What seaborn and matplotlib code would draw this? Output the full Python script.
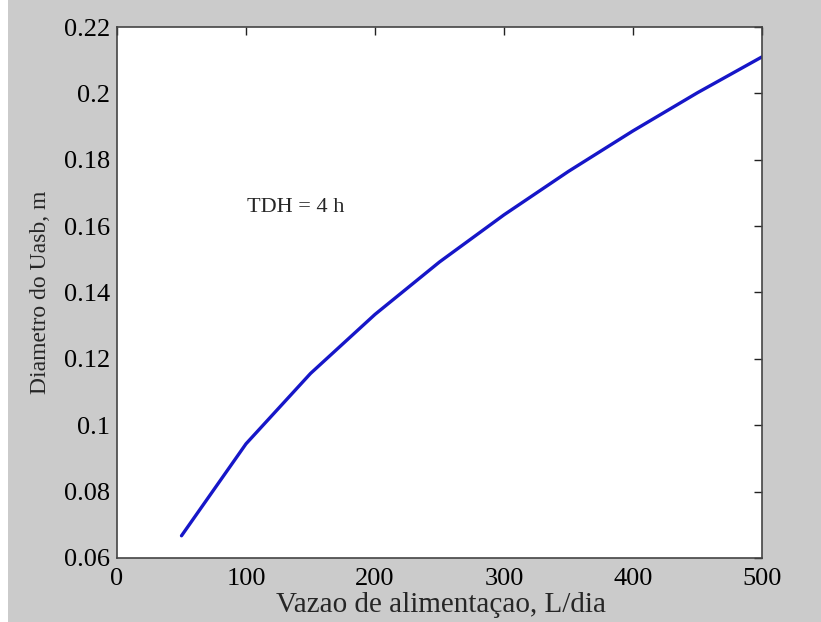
import matplotlib
matplotlib.use("Agg")
import matplotlib.pyplot as plt
import seaborn as sns
import pandas as pd

# data
vazao = [50, 100, 150, 200, 250, 300, 350, 400, 450, 500]
diametro = [0.0667, 0.0944, 0.1156, 0.1334, 0.1492, 0.1634, 0.1765, 0.1887, 0.2002, 0.2110]
x_ticks = [0, 100, 200, 300, 400, 500]
y_ticks = [0.06, 0.08, 0.1, 0.12, 0.14, 0.16, 0.18, 0.2, 0.22]
y_ticklabels = ["0.06", "0.08", "0.1", "0.12", "0.14", "0.16", "0.18", "0.2", "0.22"]

df = pd.DataFrame({"vazao": vazao, "diametro": diametro})

sns.set_theme(style="white")
plt.rcParams["font.family"] = ["Liberation Serif", "DejaVu Serif"]

bg = "#cbcbcb"
fig = plt.figure(figsize=(8.21, 6.22), dpi=100)
fig.patch.set_facecolor("white")
# gray canvas with thin white strip at the left edge
fig.patches.append(plt.Rectangle((8 / 821, 0), 1, 1, transform=fig.transFigure,
                                 facecolor=bg, edgecolor="none", zorder=-1))

ax = fig.add_axes([117 / 821, 1 - 558 / 622, (762 - 117) / 821, (558 - 27) / 622])
ax.set_facecolor("white")

sns.lineplot(data=df, x="vazao", y="diametro", ax=ax, color="#1616c8", linewidth=2.4)

ax.set_xlim(0, 500)
ax.set_ylim(0.06, 0.22)
ax.set_xticks(x_ticks)
ax.set_yticks(y_ticks)
ax.set_yticklabels(y_ticklabels)
ax.tick_params(direction="in", length=6, width=1, colors="#222222",
               top=True, right=True, labelsize=19)
ax.tick_params(axis="y", pad=5)
ax.tick_params(axis="x", pad=7)
for lab in ax.get_xticklabels() + ax.get_yticklabels():
    lab.set_color("black")
for s in ax.spines.values():
    s.set_color("#444444")
    s.set_linewidth(1.2)

ax.set_xlabel("")
ax.set_ylabel("")
fig.text(41 / 821, 1 - 292 / 622, "Diametro do Uasb, m", fontsize=17,
         rotation=90, ha="center", va="center")
fig.text((117 + 765) / 2 / 821, 4 / 622, "Vazao de alimentaçao, L/dia",
         fontsize=21, ha="center", va="bottom")

ax.text(101, 0.1655, "TDH = 4 h", fontsize=16, va="center", ha="left")

fig.savefig("out.png", dpi=100, facecolor=fig.get_facecolor())
